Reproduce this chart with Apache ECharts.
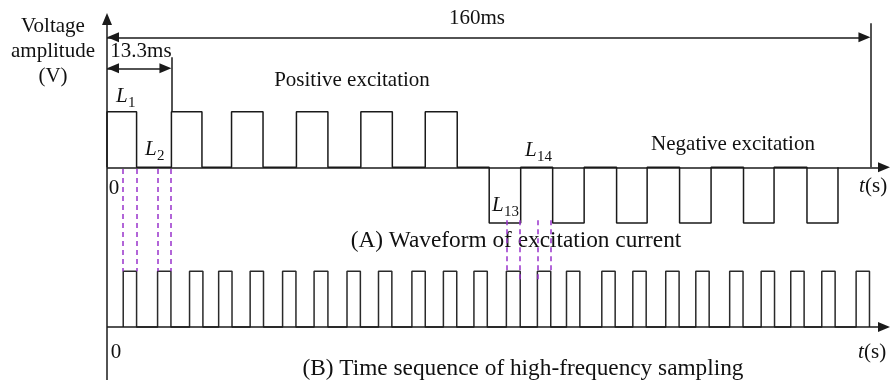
<!DOCTYPE html>
<html>
<head>
<meta charset="utf-8">
<script src="https://cdn.jsdelivr.net/npm/echarts@6/dist/echarts.min.js"></script>
<style>html,body{margin:0;padding:0;background:#fff}#c{width:890px;height:385px}</style>
</head>
<body>
<div id="c"></div>
<script>
// ---- data (time in ms, amplitude in V units) ----
const posStarts = [0, 13.5, 26.1, 39.7, 53.2, 66.7];
const posEnds   = [6.2, 19.9, 32.7, 46.3, 59.8, 73.4];
const negStarts = [80.1, 93.4, 106.8, 120.0, 133.4, 146.7];
const negEnds   = [86.7, 100.0, 113.2, 126.6, 139.8, 153.2];
const sampStarts = [3.4, 10.6, 17.3, 23.4, 30.0, 36.8, 43.4, 50.3, 56.9, 63.9, 70.5, 76.9,
                    83.7, 90.2, 96.3, 103.7, 110.2, 117.1, 123.4, 130.5, 137.1, 143.3, 149.8, 157.0];
const sampEnds   = [6.2, 13.4, 20.1, 26.2, 32.8, 39.6, 46.3, 53.1, 59.7, 66.7, 73.3, 79.7,
                    86.6, 93.0, 99.1, 106.5, 113.0, 119.9, 126.2, 133.3, 139.9, 146.1, 152.6, 159.8];
const posLevel = 1, negLevel = -1, zeroLevel = 0;
const sampBase = -2.87, sampHigh = -1.87;
const totalPeriod = 160, period = 13.5;
const markedSamples = [0, 1, 12, 13];   // sampling pulses highlighted by dashed guides
const tickLabels = ['0', '0'];

const FONT = '"Liberation Serif", "DejaVu Serif", serif';
const INK = '#1a1a1a';
const PURPLE = '#9933cc';
const FS = 21, CAP = 23.3;

// build waveform polyline
const wave = [[0, zeroLevel]];
posStarts.forEach((s, i) => { wave.push([s, zeroLevel], [s, posLevel], [posEnds[i], posLevel], [posEnds[i], zeroLevel]); });
negStarts.forEach((s, i) => { wave.push([s, zeroLevel], [s, negLevel], [negEnds[i], negLevel], [negEnds[i], zeroLevel]); });

const samp = [];
sampStarts.forEach((s, i) => { samp.push([s, sampBase], [s, sampHigh], [sampEnds[i], sampHigh], [sampEnds[i], sampBase]); });

const xMax = 164.1, yMin = -3.825, yMax = 2.775;
const dimY160 = 2.338, dimY13 = 1.78;
// half arrow length expressed in axis units (so arrow tips land on the end coordinates)
const gridW = 783, gridH = 367;
const hx = 6 * xMax / gridW, hy = 6 * (yMax - yMin) / gridH;

// dashed guides
const guides = [];
markedSamples.forEach((k, j) => {
  const first = j < 2;
  const yTop = first ? -0.03 : -0.95;
  guides.push([{coord: [sampStarts[k], yTop]}, {coord: [sampStarts[k], first ? sampHigh : (k === 12 ? sampHigh : -2.03)]}]);
  guides.push([{coord: [sampEnds[k], yTop]}, {coord: [sampEnds[k], first ? sampHigh : (k === 12 ? -2.03 : sampHigh)]}]);
});

function txt(x, y, s, size) {
  return {type: 'text', x: x, y: y, style: {text: s, font: (size || FS) + 'px ' + FONT, fill: '#111', textAlign: 'center', textVerticalAlign: 'middle'}};
}
function lab(x, y, sub) {
  return [
    {type: 'text', x: x, y: y, style: {text: 'L', font: 'italic ' + FS + 'px ' + FONT, fill: '#111', textAlign: 'left', textVerticalAlign: 'middle'}},
    {type: 'text', x: x + 12, y: y + 7, style: {text: sub, font: '15px ' + FONT, fill: '#111', textAlign: 'left', textVerticalAlign: 'middle'}}
  ];
}
function tlab(x, y) {
  return [
    {type: 'text', x: x, y: y, style: {text: 't', font: 'italic ' + FS + 'px ' + FONT, fill: '#111', textAlign: 'left', textVerticalAlign: 'middle'}},
    {type: 'text', x: x + 6, y: y, style: {text: '(s)', font: FS + 'px ' + FONT, fill: '#111', textAlign: 'left', textVerticalAlign: 'middle'}}
  ];
}

const chart = echarts.init(document.getElementById('c'), null, {renderer: 'canvas'});
const arrowSize = [10, 12];
chart.setOption({
  animation: false,
  backgroundColor: '#fff',
  grid: {left: 107, right: 0, top: 13, bottom: 5},
  xAxis: {type: 'value', min: 0, max: xMax, show: false},
  yAxis: {type: 'value', min: yMin, max: yMax, show: false},
  series: [
    {
      type: 'line', data: wave, symbol: 'none', clip: false,
      lineStyle: {color: INK, width: 1.5},
      markLine: {
        silent: true, symbol: ['none', 'triangle'], symbolSize: arrowSize, label: {show: false},
        lineStyle: {color: INK, width: 1.5, type: 'solid'},
        data: [
          [{coord: [0, yMin]}, {coord: [0, yMax - hy]}],
          [{coord: [0, zeroLevel]}, {coord: [xMax - hx, zeroLevel]}],
          [{coord: [0, sampBase]}, {coord: [xMax - hx, sampBase]}],
          [{coord: [hx, dimY160], symbol: 'triangle'}, {coord: [totalPeriod - hx, dimY160]}],
          [{coord: [hx, dimY13], symbol: 'triangle'}, {coord: [period - hx, dimY13]}],
          [{coord: [0, dimY160], symbol: 'none'}, {coord: [hx, dimY160], symbol: 'none'}],
          [{coord: [0, dimY13], symbol: 'none'}, {coord: [hx, dimY13], symbol: 'none'}],
          [{coord: [totalPeriod, 2.59], symbol: 'none'}, {coord: [totalPeriod, zeroLevel], symbol: 'none'}],
          [{coord: [period, 1.98], symbol: 'none'}, {coord: [period, posLevel], symbol: 'none'}]
        ]
      }
    },
    {
      type: 'line', data: samp, symbol: 'none', clip: false,
      lineStyle: {color: '#2a2a2a', width: 1.5},
      markLine: {
        silent: true, symbol: 'none', label: {show: false},
        lineStyle: {color: PURPLE, width: 1.5, type: [5, 4]},
        data: guides
      }
    }
  ],
  graphic: [
    {type: 'text', x: 53, y: 51, style: {text: 'Voltage\namplitude\n(V)', font: FS + 'px ' + FONT, lineHeight: 25, fill: '#111', textAlign: 'center', textVerticalAlign: 'middle'}},
    txt(477, 18, '160ms'),
    txt(141, 51, '13.3ms'),
    txt(352, 80, 'Positive excitation'),
    txt(733, 144, 'Negative excitation'),
    txt(516, 241, '(A) Waveform of excitation current', CAP),
    txt(523, 369, '(B) Time sequence of high-frequency sampling', CAP),
    txt(114, 188, tickLabels[0]),
    txt(116, 352, tickLabels[1])
  ].concat(lab(116, 96, '1'), lab(145, 149, '2'), lab(492, 205, '13'), lab(525, 150, '14'), tlab(859, 186), tlab(858, 352))
});
</script>
</body>
</html>
